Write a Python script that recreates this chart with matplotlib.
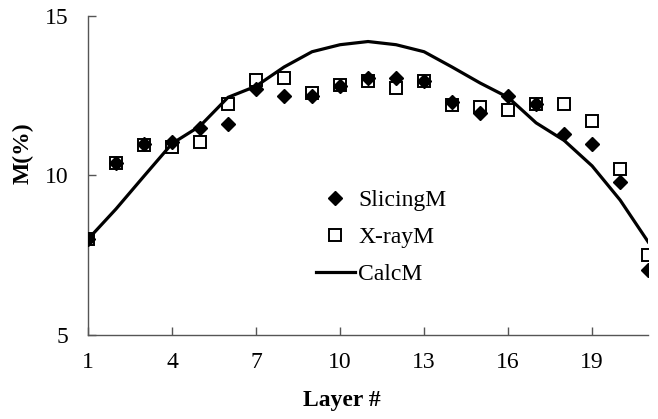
import matplotlib.pyplot as plt

# Données
couches = list(range(1, 22))
slicing_m = [8.0, 10.4, 11.0, 11.05, 11.5, 11.6, 12.7, 12.5, 12.5, 12.8, 13.05,
             13.05, 12.95, 12.3, 11.95, 12.5, 12.25, 11.3, 11.0, 9.8, 7.05]
xray_m = [8.0, 10.4, 10.95, 10.9, 11.05, 12.25, 13.0, 13.05, 12.6, 12.85, 12.95,
          12.75, 12.95, 12.2, 12.15, 12.05, 12.25, 12.25, 11.7, 10.2, 7.5]
calc_m = [8.0, 8.95, 9.98, 11.0, 11.55, 12.45, 12.8, 13.4, 13.88, 14.1, 14.2,
          14.1, 13.88, 13.4, 12.9, 12.45, 11.65, 11.1, 10.3, 9.23, 7.92]

plt.rcParams["font.family"] = "Liberation Serif"

fig = plt.figure(figsize=(6.58, 4.19), dpi=100)
ax = fig.add_axes([0.1337, 0.2005, 0.8513, 0.7613])

# Courbe calculée et mesures
ax.plot(couches, calc_m, color="black", linewidth=2.3, label="CalcM", zorder=2)
ax.plot(couches, xray_m, linestyle="none", marker="s", markersize=9,
        markerfacecolor="none", markeredgecolor="black", markeredgewidth=1.4,
        label="X-rayM", zorder=3)
ax.plot(couches, slicing_m, linestyle="none", marker="D", markersize=7,
        color="black", label="SlicingM", zorder=4)

ax.set_xlim(1, 21)
ax.set_ylim(5, 15)
ax.set_xticks([1, 4, 7, 10, 13, 16, 19])
ax.set_yticks([5, 10, 15])

for cote in ["top", "right"]:
    ax.spines[cote].set_visible(False)
for cote in ["left", "bottom"]:
    ax.spines[cote].set_color("#555555")
    ax.spines[cote].set_linewidth(1.0)

ax.tick_params(axis="both", direction="in", length=6, width=1.0,
               color="#555555", labelsize=17)
ax.tick_params(axis="y", pad=14)
ax.tick_params(axis="x", pad=12)

ax.set_xlabel("Layer #", fontsize=17, fontweight="bold")
ax.set_ylabel("M(%)", fontsize=17, fontweight="bold")
ax.xaxis.set_label_coords(0.453, -0.204)
ax.xaxis.label.set_va("center")
ax.yaxis.set_label_coords(-0.116, 0.57)
ax.yaxis.label.set_va("center")

# Légende sans cadre, ordre: SlicingM, X-rayM, CalcM
poignees, etiquettes = ax.get_legend_handles_labels()
ordre = [2, 1, 0]
fig.legend([poignees[i] for i in ordre], [etiquettes[i] for i in ordre],
           loc="upper left", bbox_to_anchor=(0.480, 0.547), frameon=False,
           fontsize=17, borderpad=0, borderaxespad=0, handlelength=1.65,
           handletextpad=0.15, labelspacing=0.65)

fig.savefig("out.png", dpi=100)
